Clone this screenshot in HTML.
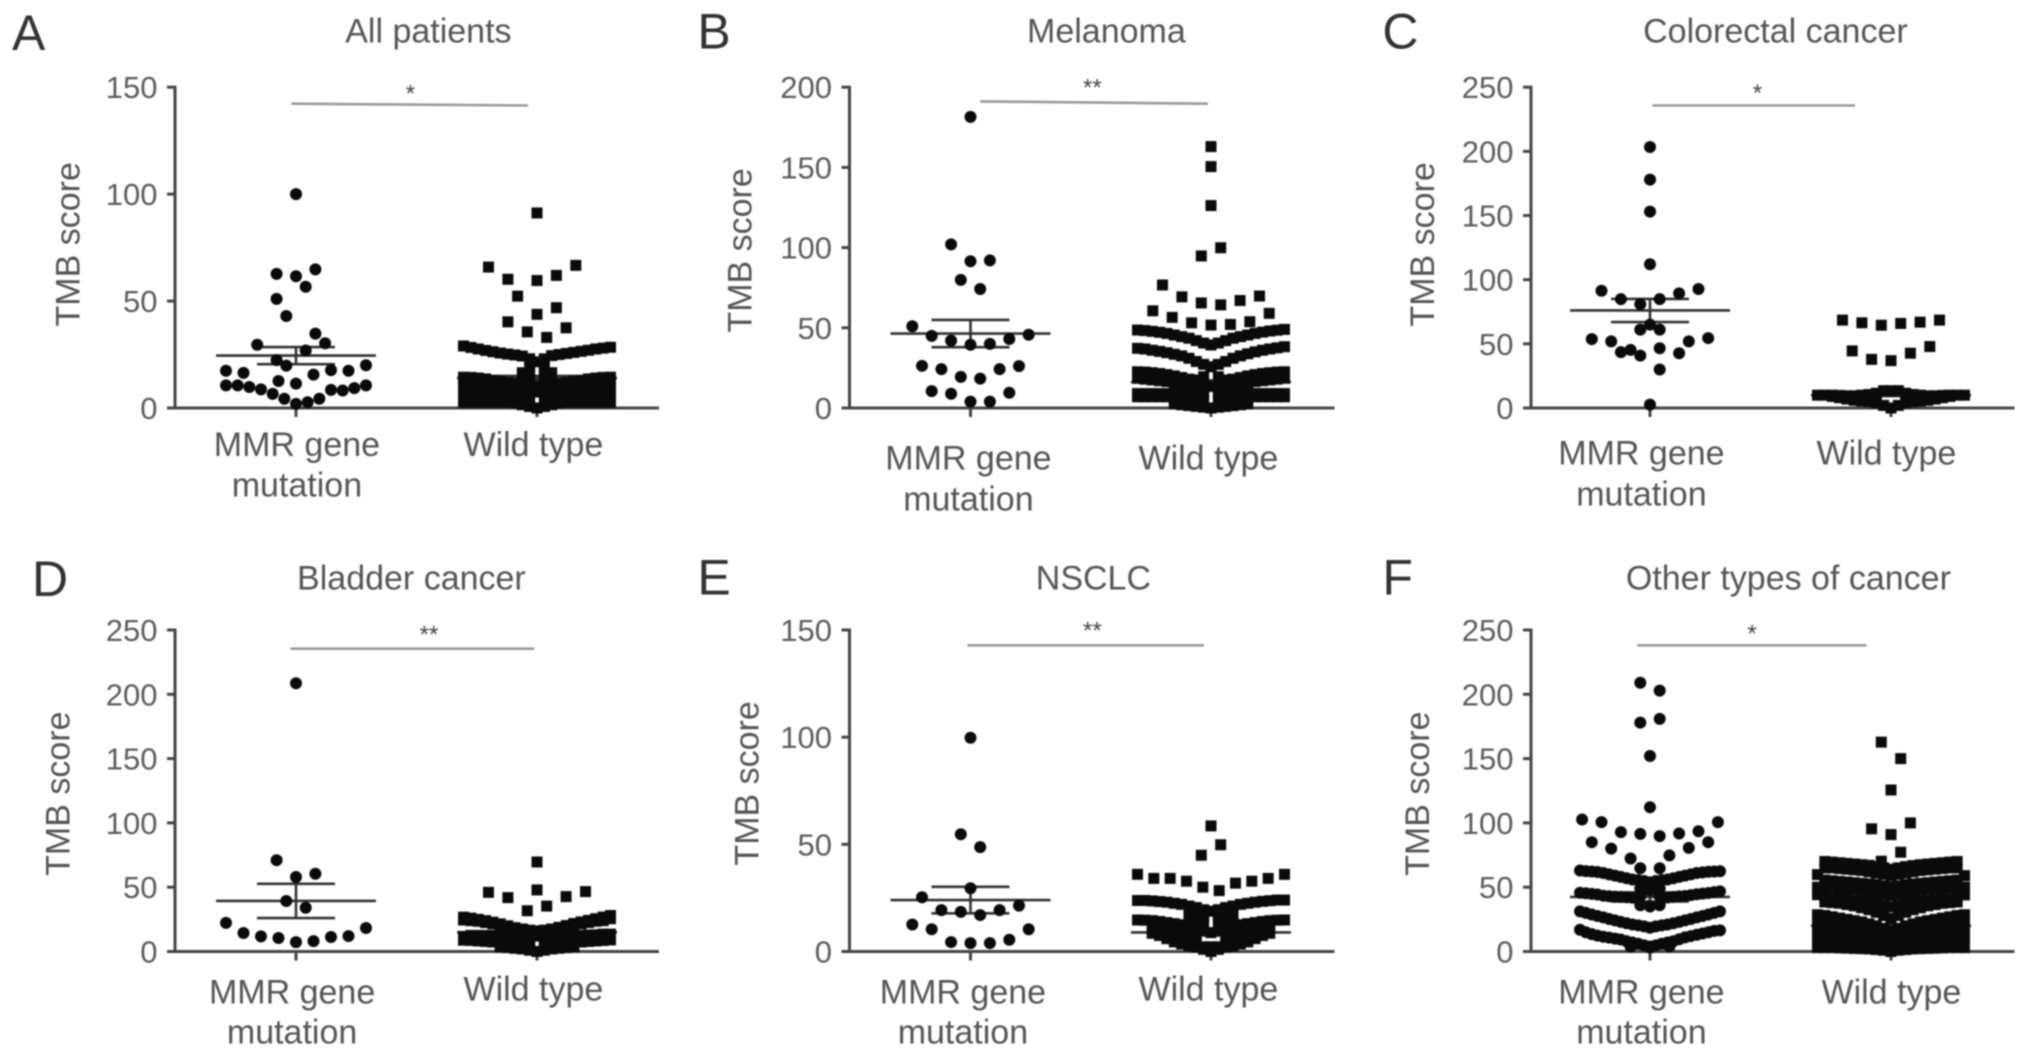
<!DOCTYPE html>
<html lang="en">
<head>
<meta charset="utf-8">
<title>TMB score by MMR gene status</title>
<style>
  html, body { margin: 0; padding: 0; background: #fff; }
  svg { display: block; filter: blur(0.85px); }
  text { font-family: "Liberation Sans", sans-serif; fill: #555; }
  .letter { font-size: 50px; fill: #333; }
  .title, .cat, .ylab { font-size: 34px; text-anchor: middle; }
  .tick { font-size: 31px; text-anchor: end; fill: #5c5c5c; }
  .star { font-size: 24px; text-anchor: middle; fill: #444; }
  .sig { stroke: #999; stroke-width: 2.6; }
</style>
</head>
<body>
<svg id="figure" xmlns="http://www.w3.org/2000/svg" width="2032" height="1057" viewBox="0 0 2032 1057">
  <g id="panel-a">
    <text class="letter" x="12" y="50">A</text>
    <g transform="translate(-2.6 -1.3)">
      <text class="title" x="431" y="44">All patients</text>
      <text class="ylab" transform="translate(82 245.6) rotate(-90)">TMB score</text>
      <text class="cat" x="299.5" y="457.5">MMR gene</text>
      <text class="cat" x="299.5" y="498">mutation</text>
      <text class="cat" x="536" y="457.5">Wild type</text>
      <line class="sig" x1="294" y1="105" x2="530.5" y2="106.8"/>
      <text class="star" x="413" y="103">*</text>
    </g>
  </g>
  <g id="panel-b">
    <g transform="translate(-2.6 -1.3)">
      <text class="letter" x="700" y="50">B</text>
      <text class="title" x="1109" y="44">Melanoma</text>
      <text class="ylab" transform="translate(754 251.7) rotate(-90)">TMB score</text>
      <text class="cat" x="971" y="471">MMR gene</text>
      <text class="cat" x="971" y="512">mutation</text>
      <text class="cat" x="1211" y="471">Wild type</text>
      <line class="sig" x1="983" y1="102.7" x2="1210.5" y2="105"/>
      <text class="star" x="1095" y="97">**</text>
    </g>
  </g>
  <g id="panel-c">
    <g transform="translate(-2.6 -1.3)">
      <text class="letter" x="1385" y="50">C</text>
      <text class="title" x="1778" y="44">Colorectal cancer</text>
      <text class="ylab" transform="translate(1436.5 245.7) rotate(-90)">TMB score</text>
      <text class="cat" x="1644" y="466">MMR gene</text>
      <text class="cat" x="1644" y="507">mutation</text>
      <text class="cat" x="1889" y="466">Wild type</text>
      <line class="sig" x1="1655" y1="106.8" x2="1857.6" y2="106.8"/>
      <text class="star" x="1760" y="102.5">*</text>
    </g>
  </g>
  <g id="panel-d">
    <text class="letter" x="32" y="596">D</text>
    <g transform="translate(-2.6 -1.3)">
      <text class="title" x="414" y="591">Bladder cancer</text>
      <text class="ylab" transform="translate(72 795) rotate(-90)">TMB score</text>
      <text class="cat" x="294.7" y="1004.6">MMR gene</text>
      <text class="cat" x="294.7" y="1045">mutation</text>
      <text class="cat" x="536" y="1002">Wild type</text>
      <line class="sig" x1="293" y1="650" x2="537" y2="650"/>
      <text class="star" x="431.6" y="644">**</text>
    </g>
  </g>
  <g id="panel-e">
    <g transform="translate(-2.6 -1.3)">
      <text class="letter" x="700" y="596">E</text>
      <text class="title" x="1096" y="591">NSCLC</text>
      <text class="ylab" transform="translate(761 784.7) rotate(-90)">TMB score</text>
      <text class="cat" x="965.5" y="1004.6">MMR gene</text>
      <text class="cat" x="965.5" y="1045">mutation</text>
      <text class="cat" x="1211" y="1002">Wild type</text>
      <line class="sig" x1="970" y1="646.6" x2="1206.6" y2="646.6"/>
      <text class="star" x="1095" y="640">**</text>
    </g>
  </g>
  <g id="panel-f">
    <g transform="translate(-2.6 -1.3)">
      <text class="letter" x="1385" y="596">F</text>
      <text class="title" x="1791" y="591">Other types of cancer</text>
      <text class="ylab" transform="translate(1431.5 795) rotate(-90)">TMB score</text>
      <text class="cat" x="1644" y="1004.6">MMR gene</text>
      <text class="cat" x="1644" y="1045">mutation</text>
      <text class="cat" x="1894" y="1004.6">Wild type</text>
      <line class="sig" x1="1640" y1="646.6" x2="1869" y2="646.6"/>
      <text class="star" x="1754.7" y="642.7">*</text>
    </g>
  </g>
</svg>
<script>
/* Tick labels */
const ticksA = [0, 50, 100, 150];
const ticksB = [0, 50, 100, 150, 200];
const ticksC = [0, 50, 100, 150, 200, 250];
const ticksD = [0, 50, 100, 150, 200, 250];
const ticksE = [0, 50, 100, 150];
const ticksF = [0, 50, 100, 150, 200, 250];

/* Mean and SEM, [MMR gene mutation, wild type] */
const meanA = [24.5, 14];   const semA = [4, 1];
const meanB = [46.4, 16.2]; const semB = [8.5, 1];
const meanC = [76, 10];     const semC = [9, 0.7];
const meanD = [39.3, 15];   const semD = [13.3, 1];
const meanE = [24, 8.9];    const semE = [6.2, 0.8];
const meanF = [42.4, 20];   const semF = [3.5, 0.8];

/* TMB scores. Each inner list is one swarm row, read left to right; N is an empty slot. */
const N = null;
const mmrA = [
  [100],
  [62.7, 61.6, 64.8],
  [43, 56.7],
  [51, N, N],
  [29.6, 22.4, N, 34.8, N],
  [N, 19.8, 26.9, 30.3],
  [17.4, 16.4, N, 12.6, 11.4, 15.6, 17.7, 17.4, 20],
  [10.6, 10.6, 9.8, 8.7, 6.6, 4.3, 1.9, 2.7, 4.3, 8.5, 8.2, 9.3, 10.6]
];
const wildA = [
  [91.2],
  [65.9, 60.2, N, N, N, N],
  [N, N, 59.6, 62, 66.7],
  [52.3, 43.8, 46.9],
  [40.3, 35.6, 33, 37.5],
  [29, 28.3, 27.6, 26.9, 26.3, 25.7, 25.2, 24.8, 24.3, 23, 21.6, 23, 24.5, 25, 25.5, 26, 26.5, 27, 27.6, 28, 28.4],
  [N, N, N, N, N, N, N, N, N, 19.5, N, 19.5, N, N, N, N, N, N, N, N, N],
  [N, N, N, N, N, N, N, N, 16.5, 16, N, 16, 16.5, N, N, N, N, N, N, N, N],
  [N, N, N, N, N, N, N, N, 13, 13, N, 13, 13, N, N, N, N, N, N, N, N],
  [14.4, 14.3, 14, 13.6, 13, 12.5, 12, 11.2, 10, 10, 10, 10, 10, 11.2, 12, 12.5, 13, 13.6, 14, 14.3, 14.4],
  [10.5, 10.5, 10, 10, 9.5, 9.5, 9, 8.5, 7.5, 7, 7.5, 7, 7.5, 8.5, 9, 9.5, 9.5, 10, 10, 10.5, 10.5],
  [7, 7, 6.5, 6.5, 6, 6, 5.5, 5.5, 5, 3.7, N, 3.7, 5, 5.5, 5.5, 6, 6, 6.5, 6.5, 7, 7],
  [2.6, 2.6, 2.6, 2.6, 2.6, 2.6, 2.6, 2.4, 1.5, 0.7, 0, 0.7, 1.5, 2.4, 2.6, 2.6, 2.6, 2.6, 2.6, 2.6, 2.6]
];
const mmrB = [
  [181.5],
  [102, 91.5, 92],
  [79.9, 74.2],
  [51, 45, 42, 39.4, 40, 43, 45.7],
  [26.3, 24.2, 19.4, 18.3, 24.2, 26.1],
  [10.5, 8.9, 4, 4, 9.5]
];
const wildB = [
  [163], [150.5], [126.2],
  [94.8, 99.9],
  [76.7, 69.3, 65.5, 64.3, 67, 69.8],
  [60.6, 56.5, 53.1, 51.7, 52.1, 53.8, 59],
  [48.6, 48.3, 47.8, 47.2, 46.5, 45.5, 44.5, 43.5, 42, 40.5, 39.3, 40.5, 42, 43.5, 44.5, 45.5, 46.5, 47.3, 48, 48.5, 49],
  [37.2, 36.8, 36, 35.3, 34.5, 33.5, 32.5, 31, 29, 27.2, 25.7, 27.2, 29, 31, 32.5, 33.8, 35, 36, 36.8, 37.5, 38.2],
  [22.6, 22.4, 22, 21.5, 20.8, 20, 19, 18, 17.5, 19.5, N, 19.5, 17.5, 18, 19, 20, 20.8, 21.5, 22, 22.4, 22.6],
  [18.5, 18, 17.5, 17, 16.5, N, N, N, N, N, N, N, N, N, N, N, 16.5, 17, 17.5, 18, 18.5],
  [N, N, N, N, N, 14.5, 14, 14, 13.5, 13.5, 13.4, 13.5, 13.5, 14, 14, 14.5, N, N, N, N, N],
  [N, N, N, N, N, 10, 9.5, 9.5, 9.5, 9, N, 9, 9.5, 9.5, 9.5, 10, N, N, N, N, N],
  [9, 9, 9, 9, 9, N, N, N, N, N, N, N, N, N, N, N, 9, 9, 9, 9, 9],
  [7, 7, 7, 7, 7, 5, 5, 5, 5, 5, N, 5, 5, 5, 5, 5, 7, 7, 7, 7, 7],
  [N, N, N, N, N, 2.5, 2, 1.5, 1, 0.5, 0, 0.5, 1, 1.5, 2, 2.5, N, N, N, N, N]
];
const mmrC = [
  [203.4], [178], [153], [112],
  [91.4, 84.8, 80.9, 84.8, 89.3, 92.7],
  [61.1, 61.1],
  [53.7, 51.9, 45.3, 65, N, 51.9, 54.5],
  [N, 43.5, 40.8, 46.6, 42.7, N],
  [N, 30],
  [2.6]
];
const wildC = [
  [68.5, 66.4, 64.5, 65.9, 66.9, 68.5],
  [44.5, 37.9, 36.9, 42.7, 47.9],
  [13.5],
  [10, 10, 10, 9.8, 9.5, 9.5, 10, 10.5, 11.5, 13.5, N, 13.5, 11.5, 10.5, 10, 9.5, 9.5, 9.8, 10, 10, 10],
  [N, N, 9, 8, 7, 6, 5.5, 5, 4, 2, 0, 2, 4, 5, 5.5, 6, 7, 8, 9, N, N]
];
const mmrD = [
  [208.6],
  [71, 57.9, 60.5],
  [39.3, 34],
  [22.3, 14.4, 11.8, 10.5, 7.3, 8.1, 11.3, 12, 18.3]
];
const wildD = [
  [69.6],
  [47.9],
  [46, 41.9, 31.7, 35.3, 42.7, 46.6],
  [26.7, 26, 25, 24, 22.8, 21.5, 20, 18.5, 17.5, 16.5, 16, 16.5, 17.5, 18.8, 20.2, 21.8, 23, 24.2, 25.5, 26.8, 28],
  [24.5, 24, 23.5, 22.5, 21.5, 20.5, 19, 18, 17, 16.5, N, 16.5, 17, 18, 19, 20.5, 21.5, 22.5, 23.5, 24, 25.5],
  [11.5, 12.5, 12.5, 12.5, 12.5, 12, 12, 12, 12, 12, 12, 12, 12, 12, 12, 12, 12.5, 12.8, 13, 13.5, 13.5],
  [8.8, 8.6, 8.2, 7.8, 7.4, 7.5, 7.5, 7.5, 7.5, 7.5, N, 7.5, 7.5, 7.5, 7.5, 7.5, 7.4, 7.8, 8.2, 8.6, 9],
  [N, N, N, N, N, 4, 3.5, 3.5, 3.5, 3.5, N, 3.5, 3.5, 3.5, 3.5, 4, N, N, N, N, N],
  [N, N, N, N, N, 3.5, 3, 2.5, 2, 1, 0, 1, 2, 2.5, 3, 3.5, N, N, N, N, N]
];
const mmrE = [
  [99.7],
  [54.7, 48.7],
  [29.5],
  [25.3, 19.3, 18.5, 17, 19.3, 21.4],
  [12.6, 10.4, 4.4, 3.9, 3.9, 5.5, 10.4]
];
const wildE = [
  [58.6],
  [44.9, 49.8],
  [36, 34.1, 34.1, 32.8, 30, 28.4, 31.9, 32.8, 34.1, 36],
  [23.8, 23.8, 23.6, 23.3, 23, 22.5, 22, 21.2, 20.5, 19.5, 18.8, 19.5, 20.5, 21.2, 22, 22.5, 23, 23.4, 23.7, 24, 24],
  [N, N, N, N, N, N, N, 17, 17, 17, N, 17, 17, 17, N, N, N, N, N, N, N],
  [14.7, 14.6, 14.4, 14, 13.5, 13, 12.5, 12.5, 14, 16, N, 16, 14, 12.5, 12.5, 13, 13.5, 14, 14.4, 14.6, 14.7],
  [N, N, N, N, N, N, N, N, N, 12.5, N, 12.5, N, N, N, N, N, N, N, N, N],
  [N, N, 10.5, 10.5, 10.2, 10, 10, 10, 10, 9.5, 8.8, 9.5, 10, 10, 10, 10, 10.2, 10.5, 10.5, N, N],
  [N, N, N, 7.5, 7.5, 7.5, 7, 7, 6, N, N, N, 6, 7, 7, 7.5, 7.5, 7.5, N, N, N],
  [N, N, 8.5, 7.5, 6, 4.5, 3.5, 2.5, 2, 1, 0, 1, 2, 2.5, 3.5, 4.5, 6, 7.5, 8.5, N, N],
  [N, N, N, N, N, N, N, N, 2.2, 2.2, 2.2, 2.2, 2.2, N, N, N, N, N, N, N, N]
];
const mmrF = [
  [209, 202.9],
  [178, 180.9],
  [152],
  [112.2],
  [102.6, 100.6, 92.8, 91.5, 89.7, 91.8, 93.5, 100.6],
  [85, 80, 72.3, N, 74.7, 80.6, 85],
  [64.7, 64.7],
  [63, 62.5, 62.2, 61.8, 61, 60, 59, 58, 57, 56, 55.5, 54.8, 53.8, 54.8, 55.5, 56, 57, 58, 59, 60, 61, 61.5, 62, 62.2, 62.4],
  [49, 49],
  [47.5],
  [43, 43],
  [36, 36],
  [35],
  [45.7, 45.3, 44.8, 44.3, 43.4, 43, 42.7, 42.5, 42.2, 41.8, N, N, N, N, N, 42, 42.5, 42.9, 43.2, 43.8, 44.5, 45, 45.5, 46.2, 46.8],
  [31.2, 30, 28.8, 27.6, 26.5, 25.3, 24.2, 23, 22, 21, 20.3, 19.5, 18.5, 19.5, 20.3, 21, 22, 23, 24.2, 25.3, 26.5, 27.6, 28.8, 30, 31.2],
  [16.9, 15, 13.5, 12.3, 11.5, 10.8, 10, 9.3, 8, 7, 6, 4.8, 3.9, 4.8, 6, 7, 8, 9.5, 11, 12, 13, 14, 15, 16, 16.4],
  [3.8, 3, 3.8]
];
const wildF = [
  [162.8, 150],
  [125.6],
  [95.4, 90.9, 100],
  [70.2, 77.2],
  [62, 61],
  [N, 70, 69.5, 69, 68.5, 68, 67.5, 67, 66, 65, 64, 65, 66, 66.8, 67.5, 68, 68.5, 69, 69.5, 70, N],
  [N, 65, 65, 64.5, 64, 63.5, 63, 62, 61, 60, 59, 60, 61, 62, 63, 63.5, 64, 64.5, 65, 65, N],
  [59.8, 55.5, 55, 54.5, 54, 53.5, 53, 52.5, 52, 51, 50.3, 51, 52, 52.5, 53, 53.5, 54, 54.5, 55, 55.5, 59],
  [50, 49.8, 49.5, 49, 48.5, 48, 47.5, 46.5, 45.5, 44.5, 43.4, 44.5, 45.5, 46.5, 47.5, 48, 48.5, 49, 49.5, 49.8, 50],
  [44.2, 42, 41, 40.5, 40, 39.5, 39, 38.5, 37.5, 36, 34.7, 36, 37.5, 38.5, 39, 39.5, 40, 40.5, 41, 42, 44],
  [N, 38.5, 38, 37.5, 36.5, 35.5, 34, 32.5, 30.5, 28, 25.7, 28, 30.5, 32.5, 34, 35.5, 36.5, 37.5, 38, 38.5, N],
  [28.6, 28, 27, 26, 25, 24, 23, 21.5, 20, 18, 16, 18, 20, 21.5, 23, 24, 25, 26, 27, 28, 28.6],
  [21, 20, 19.5, 19, 18, 17, 16, 14.5, 13, 11, 8, 11, 13, 14.5, 16, 17, 18, 19, 19.5, 20, 21],
  [13, 12.5, 12, 11.5, 11, 10, 9, 8, 6.5, 4, 2, 4, 6.5, 8, 9, 10, 11, 11.5, 12, 12.5, 13],
  [7, 7, 7, 6.5, 6.5, 6, 6, 5.5, 5, 4, 3, 4, 5, 5.5, 6, 6, 6.5, 6.5, 7, 7, 7],
  [3, 3, 3, 2.8, 2.6, 2.4, 2.2, 2, 1.5, 1, 0, 1, 1.5, 2, 2.2, 2.4, 2.6, 2.8, 3, 3, 3]
];

/* Panel frames (pixel geometry lives here, separate from the data) */
const panels = [
  { id: 'a', left: 175, right: 659, top: 87.2, base: 408, cx: [296, 537], ticks: ticksA, mean: meanA, sem: semA, mmr: mmrA, wild: wildA },
  { id: 'b', left: 849.5, right: 1334.5, top: 87.2, base: 408, cx: [970.5, 1211], ticks: ticksB, mean: meanB, sem: semB, mmr: mmrB, wild: wildB },
  { id: 'c', left: 1531, right: 2014.5, top: 87.2, base: 408, cx: [1650, 1891], ticks: ticksC, mean: meanC, sem: semC, mmr: mmrC, wild: wildC },
  { id: 'd', left: 175, right: 659, top: 630, base: 951.5, cx: [296, 537], ticks: ticksD, mean: meanD, sem: semD, mmr: mmrD, wild: wildD },
  { id: 'e', left: 849.5, right: 1334.5, top: 630, base: 951.5, cx: [970.5, 1211], ticks: ticksE, mean: meanE, sem: semE, mmr: mmrE, wild: wildE },
  { id: 'f', left: 1531, right: 2014.5, top: 630, base: 951.5, cx: [1650, 1891], ticks: ticksF, mean: meanF, sem: semF, mmr: mmrF, wild: wildF }
];

const SVG_NS = 'http://www.w3.org/2000/svg';
const SLOT = 19.4;
const DOT_SWARM_WIDTH = 140;
const SQUARE_SWARM_WIDTH = 147;
const DOT_R = 6;
const SQUARE = 11;
const AXIS_COLOR = '#444';
const MARK_COLOR = '#0a0a0a';

function yScale(p, v) {
  const max = p.ticks[p.ticks.length - 1];
  return p.base - (v / max) * (p.base - p.top);
}

function rowX(center, index, count, width) {
  const step = count > 1 ? Math.min(SLOT, width / (count - 1)) : 0;
  return center + (index - (count - 1) / 2) * step;
}

function makeLine(x1, y1, x2, y2, color, width) {
  const el = document.createElementNS(SVG_NS, 'line');
  el.setAttribute('x1', x1);
  el.setAttribute('y1', y1);
  el.setAttribute('x2', x2);
  el.setAttribute('y2', y2);
  el.setAttribute('stroke', color);
  el.setAttribute('stroke-width', width);
  return el;
}

function drawAxes(p, g) {
  const yAxis = makeLine(p.left, p.top - 1.5, p.left, p.base + 1.5, AXIS_COLOR, 3);
  
  
  g.appendChild(yAxis);

  const xAxis = makeLine(p.left - 8, p.base, p.right, p.base, AXIS_COLOR, 3);
  
  
  g.appendChild(xAxis);

  p.ticks.forEach(function (t) {
    const y = yScale(p, t);
    const mark = makeLine(p.left - 8, y, p.left, y, AXIS_COLOR, 3);
    
    
    g.appendChild(mark);

    const label = document.createElementNS(SVG_NS, 'text');
    label.setAttribute('class', 'tick');
    label.setAttribute('x', p.left - 17.5);
    label.setAttribute('y', y + 11);
    label.textContent = String(t);
    
    
    g.appendChild(label);
  });

  p.cx.forEach(function (c) {
    const mark = makeLine(c, p.base, c, p.base + 9, AXIS_COLOR, 3);
    
    
    g.appendChild(mark);
  });
}

function drawError(p, g, i) {
  const c = p.cx[i];
  const m = yScale(p, p.mean[i]);
  const hi = yScale(p, p.mean[i] + p.sem[i]);
  const lo = yScale(p, p.mean[i] - p.sem[i]);

  const meanLine = makeLine(c - 80, m, c + 80, m, '#333', 2.6);
  
  
  g.appendChild(meanLine);

  const stem = makeLine(c, hi, c, lo, '#333', 2.6);
  
  
  g.appendChild(stem);

  const capHigh = makeLine(c - 39, hi, c + 39, hi, '#333', 2.6);
  
  
  g.appendChild(capHigh);

  const capLow = makeLine(c - 39, lo, c + 39, lo, '#333', 2.6);
  
  
  g.appendChild(capLow);
}

function drawDots(p, g) {
  p.mmr.forEach(function (row) {
    row.forEach(function (v, i) {
      if (v === null) return;
      const dot = document.createElementNS(SVG_NS, 'circle');
      dot.setAttribute('cx', rowX(p.cx[0], i, row.length, DOT_SWARM_WIDTH));
      dot.setAttribute('cy', yScale(p, v));
      dot.setAttribute('r', DOT_R);
      dot.setAttribute('fill', MARK_COLOR);
      
      
      g.appendChild(dot);
    });
  });
}

function drawSquares(p, g) {
  p.wild.forEach(function (row) {
    row.forEach(function (v, i) {
      if (v === null) return;
      const sq = document.createElementNS(SVG_NS, 'rect');
      sq.setAttribute('x', rowX(p.cx[1], i, row.length, SQUARE_SWARM_WIDTH) - SQUARE / 2);
      sq.setAttribute('y', yScale(p, v) - SQUARE / 2);
      sq.setAttribute('width', SQUARE);
      sq.setAttribute('height', SQUARE);
      sq.setAttribute('fill', MARK_COLOR);
      
      
      g.appendChild(sq);
    });
  });
}

panels.forEach(function (p) {
  const g = document.getElementById('panel-' + p.id);
  drawAxes(p, g);
  drawError(p, g, 0);
  drawError(p, g, 1);
  drawDots(p, g);
  drawSquares(p, g);
});
</script>
</body>
</html>
